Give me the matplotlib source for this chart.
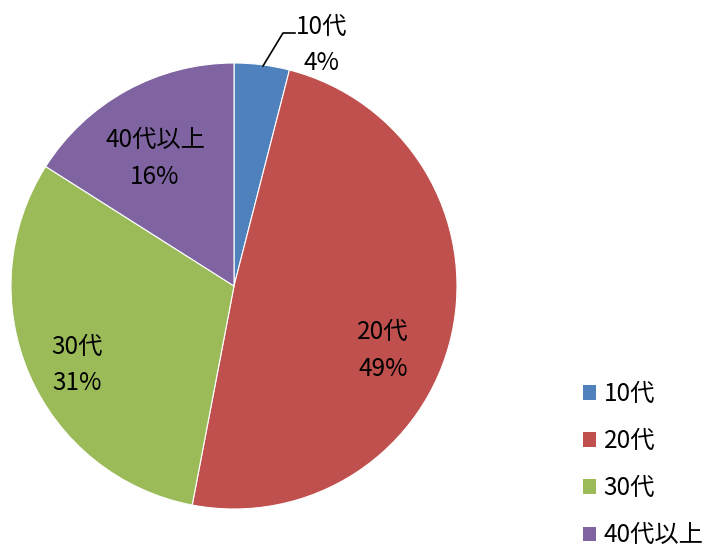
import matplotlib
matplotlib.use("Agg")
import matplotlib.pyplot as plt
from matplotlib.patches import Patch

plt.rcParams['font.family'] = ['Noto Sans CJK JP', 'DejaVu Sans']

categories = ['10代', '20代', '30代', '40代以上']
values = [4, 49, 31, 16]
colors = ['#4F81BD', '#C0504D', '#9BBB59', '#8064A2']

W, H = 710, 551
fig = plt.figure(figsize=(W / 100, H / 100), dpi=100)
cx, cy, r = 234, 286, 223
ax = fig.add_axes([(cx - r) / W, (H - cy - r) / H, 2 * r / W, 2 * r / H])
ax.set_xlim(-1, 1)
ax.set_ylim(-1, 1)
ax.set_aspect('equal')
ax.axis('off')

wedges, _ = ax.pie(values, colors=colors, startangle=90, counterclock=False,
                   radius=1, center=(0, 0), frame=False,
                   wedgeprops=dict(edgecolor='white', linewidth=0.8))
ax.set_xlim(-1, 1)
ax.set_ylim(-1, 1)

def px(x, y):
    return ((x - cx) / r, (cy - y) / r)

fs = 17.5
label_pos = [(322, 45), (383, 350), (77, 365), (155, 158)]
for cat, v, (lx, ly) in zip(categories, values, label_pos):
    x, y = px(lx, ly)
    ax.text(x, y, f"{cat}\n{v}%", ha='center', va='center', fontsize=fs,
            linespacing=1.55, clip_on=False)

# leader line for 10代
p1 = px(263, 66); p2 = px(283, 33); p3 = px(295, 33)
ax.plot([p1[0], p2[0], p3[0]], [p1[1], p2[1], p3[1]], color='black', lw=1.2, clip_on=False)

handles = [Patch(facecolor=c, edgecolor='none') for c in colors]
fig.legend(handles, categories, loc='upper left', bbox_to_anchor=(583 / W, 1 - 381 / H),
           frameon=False, fontsize=fs, handlelength=0.55, handleheight=0.55,
           handletextpad=0.3, labelspacing=0.87, borderaxespad=0, borderpad=0)

fig.savefig('out.png', dpi=100)
